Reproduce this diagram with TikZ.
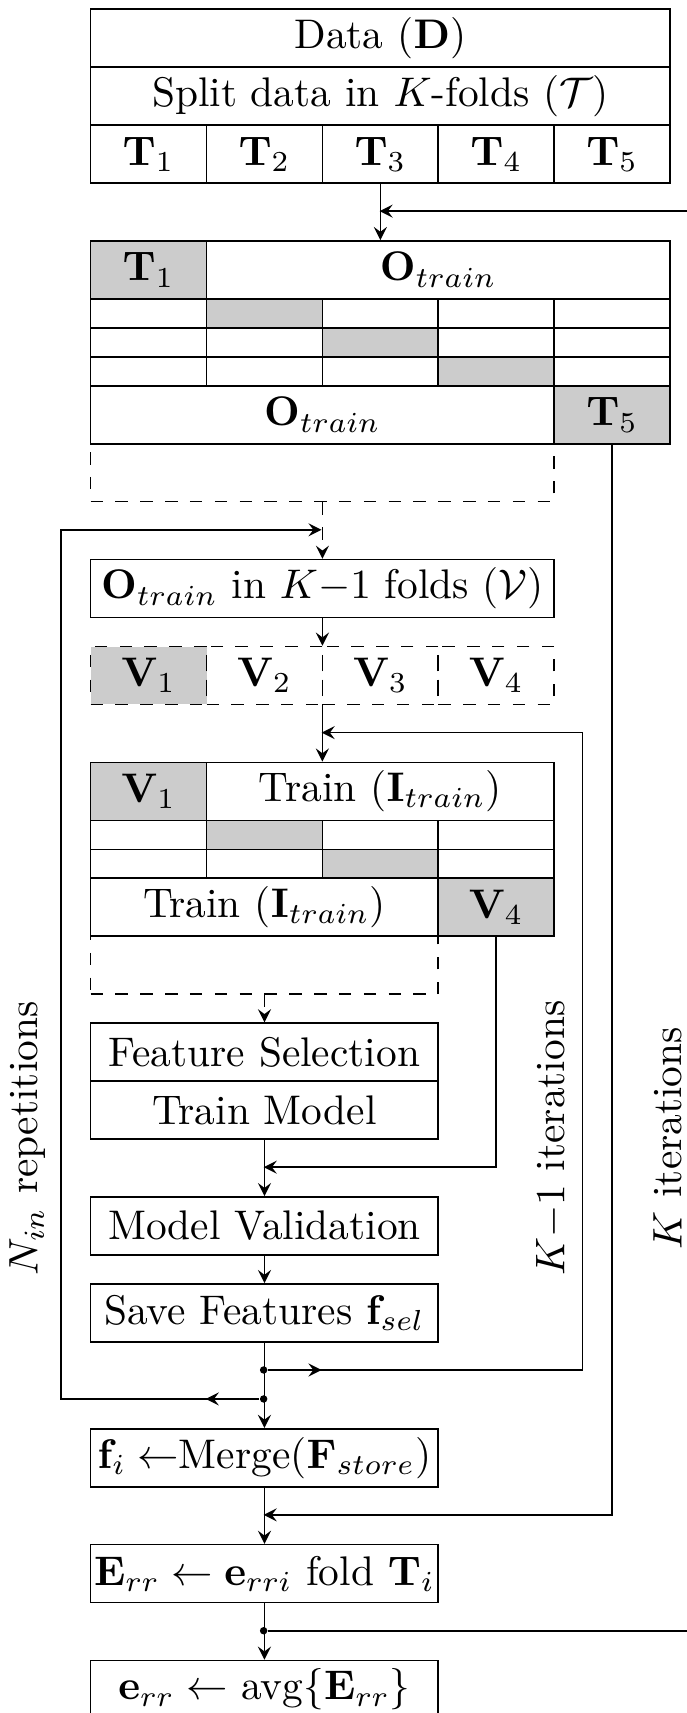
\documentclass[tikz,border=0pt]{standalone}
\begin{document}
\begin{tikzpicture}[>=stealth, x=2.46mm, y=2.46mm,
    box/.style={draw, inner sep=0pt, anchor=north west, minimum height=4.92mm},
    fold/.style={box, minimum width=9.84mm},
    wide/.style={box, minimum width=49.2mm},
    outer/.style={box, minimum width=39.36mm},
    stepbox/.style={box, minimum width=29.52mm},
    half/.style={draw, inner sep=0pt, anchor=north west, minimum height=2.46mm, minimum width=9.84mm},
    sel/.style={fill=gray!40},
    hold/.style={draw, dashed, inner sep=0pt, anchor=north west, minimum height=4.92mm},
    joint/.style={circle, fill, inner sep=0pt, minimum size=1.8pt}]
    \clip (-3.10,0.287) rectangle (20.61,-58.84);

    % data and outer folds
    \node[wide] (data) at (0,0) {Data ($\mathbf{D}$)};
    \node[wide] (split) at (0,-2) {Split data in $K$-folds ($\mathcal{T}$)};
    \foreach \i in {1,...,5}
      \node[fold] (t\i) at ({4*(\i-1)},-4) {$\mathbf{T}_\i$};

    \node[fold, sel] (ot1) at (0,-8) {$\mathbf{T}_1$};
    \node[outer] (otr1) at (4,-8) {$\mathbf{O}_{train}$};
    \foreach \r in {1,2,3}
      \foreach \c in {1,...,5} {
        \ifnum\c=\numexpr\r+1\relax \def\cellfill{gray!40}\else \def\cellfill{none}\fi
        \node[half, fill=\cellfill] (og\r\c) at ({4*(\c-1)},{-9-\r}) {};
      }
    \node[outer] (otr2) at (0,-13) {$\mathbf{O}_{train}$};
    \node[fold, sel] (ot5) at (16,-13) {$\mathbf{T}_5$};
    \node[hold, minimum width=39.36mm] (ohold) at (0,-15) {};

    % inner folds
    \node[outer] (vsplit) at (0,-19) {$\mathbf{O}_{train}$ in $K{-}1$ folds ($\mathcal{V}$)};
    \foreach \i/\f in {1/gray!40, 2/none, 3/none, 4/none}
      \node[fold, dashed, fill=\f] (v\i) at ({4*(\i-1)},-22) {$\mathbf{V}_\i$};

    \node[fold, sel] (iv1) at (0,-26) {$\mathbf{V}_1$};
    \node[stepbox] (itr1) at (4,-26) {Train ($\mathbf{I}_{train}$)};
    \foreach \r in {1,2}
      \foreach \c in {1,...,4} {
        \ifnum\c=\numexpr\r+1\relax \def\cellfill{gray!40}\else \def\cellfill{none}\fi
        \node[half, fill=\cellfill] (ig\r\c) at ({4*(\c-1)},{-27-\r}) {};
      }
    \node[stepbox] (itr2) at (0,-30) {Train ($\mathbf{I}_{train}$)};
    \node[fold, sel] (iv4) at (12,-30) {$\mathbf{V}_4$};
    \node[hold, minimum width=29.52mm] (ihold) at (0,-32) {};

    % steps
    \node[stepbox] (fs) at (0,-35) {Feature Selection};
    \node[stepbox] (tm) at (0,-37) {Train Model};
    \node[stepbox] (mv) at (0,-41) {Model Validation};
    \node[stepbox] (sf) at (0,-44) {Save Features $\mathbf{f}_{sel}$};
    \node[stepbox] (merge) at (0,-49) {$\mathbf{f}_i \leftarrow$Merge($\mathbf{F}_{store}$)};
    \node[stepbox] (err) at (0,-53) {$\mathbf{E}_{rr} \leftarrow \mathbf{e}_{rri}$ fold $\mathbf{T}_i$};
    \node[stepbox] (avg) at (0,-57) {$\mathbf{e}_{rr} \leftarrow$ avg$\{\mathbf{E}_{rr}\}$};

    \node[joint] (j1) at (6,-47) {};
    \node[joint] (j2) at (6,-48) {};
    \node[joint] (j3) at (6,-56) {};
    \coordinate (tin) at (10,-7);
    \coordinate (nin) at (8,-18);
    \coordinate (kin) at (8,-25);
    \coordinate (vin) at (6,-40);
    \coordinate (oin) at (6,-52);

    % connectors
    \draw[->] (t3) -- (t3 |- otr1.north);
    \draw[->] (j3) -- ++(16,0) |- (tin);
    \draw[dashed, ->] (ohold) -- (vsplit);
    \draw[->] (j2) -- ++(-2,0);
    \draw[->] (j2) -- ++(-7,0) |- (nin);
    \draw[->] (vsplit) -- (vsplit.south |- v2.north);
    \draw[->] (vsplit.south |- v2.south) -- (vsplit.south |- itr1.north);
    \draw[->] (j1) -- ++(2,0);
    \draw[->] (j1) -- ++(11,0) |- (kin);
    \draw[dashed, ->] (ihold) -- (fs);
    \draw[->] (iv4) |- (vin);
    \draw[->] (tm) -- (mv);
    \draw[->] (mv) -- (sf);
    \draw[->] (sf) -- (merge);
    \draw[->] (ot5) |- (oin);
    \draw[->] (merge) -- (err);
    \draw[->] (err) -- (avg);

    \node[rotate=90] (ninlab) at (-2.15,-39) {$N_{in}$ repetitions};
    \node[rotate=90] (k1lab) at (15.95,-39) {$K{-}1$ iterations};
    \node[rotate=90] (klab) at (19.95,-39) {$K$ iterations};
\end{tikzpicture}
\end{document}
